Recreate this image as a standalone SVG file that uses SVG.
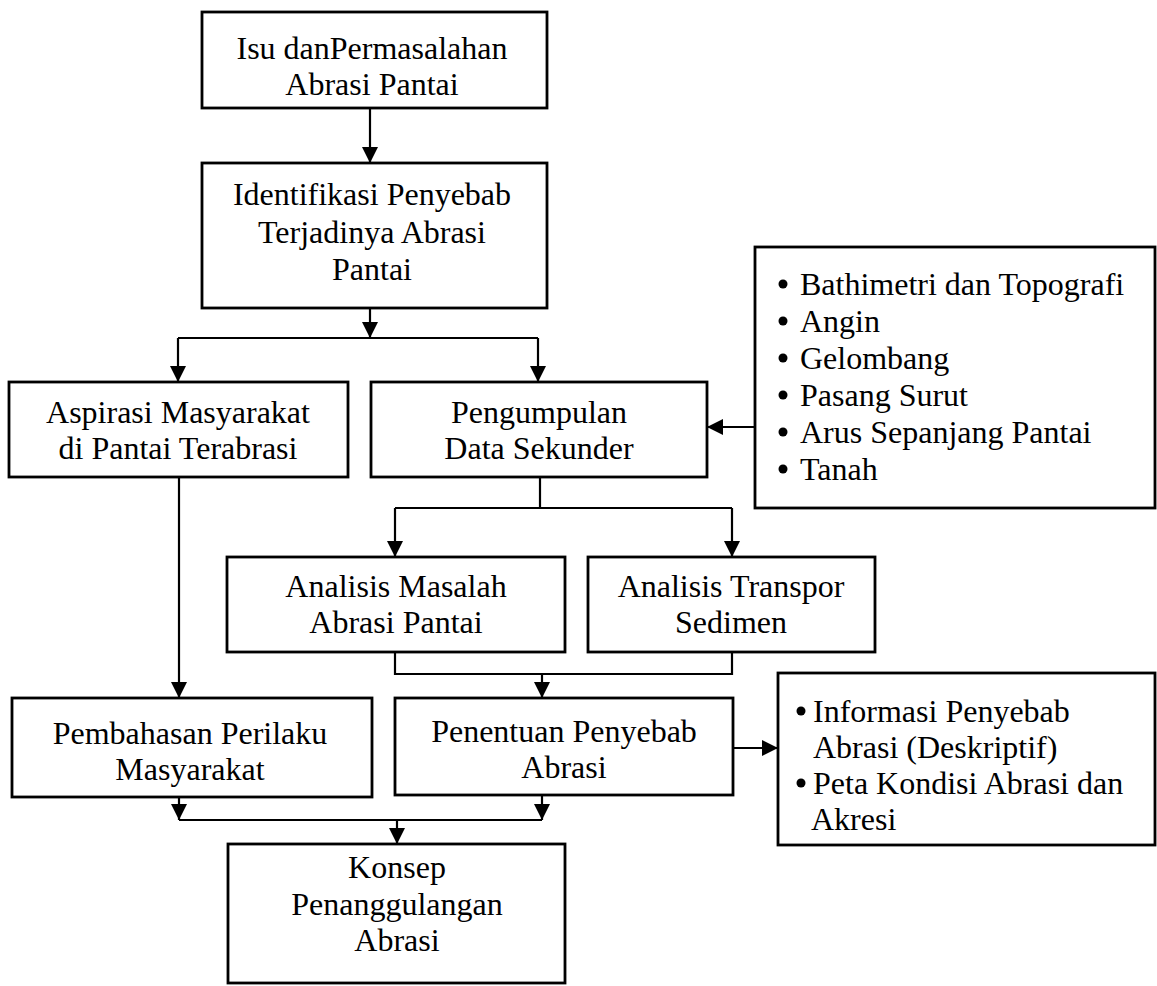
<svg xmlns="http://www.w3.org/2000/svg" width="1157" height="986" viewBox="0 0 1157 986">
<style>
.box{fill:#fff;stroke:#000;stroke-width:2.8}
.t{font-family:"Liberation Serif","Times New Roman",serif;font-size:32px;fill:#000;text-anchor:middle}
.b{font-family:"Liberation Serif","Times New Roman",serif;font-size:32px;fill:#000}
.c{fill:none;stroke:#000;stroke-width:2.2}
.a{fill:none;stroke:#000;stroke-width:2.2;marker-end:url(#ah)}
</style>
<defs>
<marker id="ah" markerUnits="userSpaceOnUse" markerWidth="18" markerHeight="18" refX="16" refY="8" orient="auto">
<path d="M0,0 L16,8 L0,16 z" fill="#000"/>
</marker>
</defs>
<rect width="1157" height="986" fill="#fff"/>
<g id="connectors">
<path class="a" d="M370,108 V163"/>
<path class="a" d="M370,308 V338"/>
<path class="c" d="M178,338 H538"/>
<path class="a" d="M178,338 V382"/>
<path class="a" d="M538,338 V382"/>
<path class="a" d="M755,427 H707"/>
<path class="c" d="M540,477 V508"/>
<path class="c" d="M395,508 H732"/>
<path class="a" d="M395,508 V557"/>
<path class="a" d="M732,508 V557"/>
<path class="a" d="M179,477 V698"/>
<path class="c" d="M395,652 V674 H732 V652"/>
<path class="a" d="M542,674 V698"/>
<path class="a" d="M733,748 H778"/>
<path class="a" d="M179,797 V820"/>
<path class="a" d="M542,795 V820"/>
<path class="c" d="M179,820 H542"/>
<path class="a" d="M397,820 V844"/>
</g>
<g id="n1">
<rect class="box" x="202" y="12" width="345" height="96"/>
<text class="t" x="372" y="59">Isu danPermasalahan</text>
<text class="t" x="372" y="95">Abrasi Pantai</text>
</g>
<g id="n2">
<rect class="box" x="202" y="163" width="345" height="145"/>
<text class="t" x="372" y="205">Identifikasi Penyebab</text>
<text class="t" x="372" y="243">Terjadinya Abrasi</text>
<text class="t" x="372" y="280">Pantai</text>
</g>
<g id="n3">
<rect class="box" x="9" y="382" width="339" height="95"/>
<text class="t" x="178" y="423">Aspirasi Masyarakat</text>
<text class="t" x="178" y="459">di Pantai Terabrasi</text>
</g>
<g id="n4">
<rect class="box" x="371" y="382" width="336" height="95"/>
<text class="t" x="539" y="423">Pengumpulan</text>
<text class="t" x="539" y="459">Data Sekunder</text>
</g>
<g id="n5">
<rect class="box" x="755" y="247" width="400" height="261"/>
<circle cx="783" cy="284" r="4.5"/>
<text class="b" x="800" y="295">Bathimetri dan Topografi</text>
<circle cx="783" cy="321" r="4.5"/>
<text class="b" x="800" y="332">Angin</text>
<circle cx="783" cy="358" r="4.5"/>
<text class="b" x="800" y="369">Gelombang</text>
<circle cx="783" cy="395" r="4.5"/>
<text class="b" x="800" y="406">Pasang Surut</text>
<circle cx="783" cy="432" r="4.5"/>
<text class="b" x="800" y="443">Arus Sepanjang Pantai</text>
<circle cx="783" cy="469" r="4.5"/>
<text class="b" x="800" y="480">Tanah</text>
</g>
<g id="n6">
<rect class="box" x="227" y="557" width="338" height="95"/>
<text class="t" x="396" y="597">Analisis Masalah</text>
<text class="t" x="396" y="633">Abrasi Pantai</text>
</g>
<g id="n7">
<rect class="box" x="588" y="557" width="287" height="95"/>
<text class="t" x="731" y="597">Analisis Transpor</text>
<text class="t" x="731" y="633">Sedimen</text>
</g>
<g id="n8">
<rect class="box" x="12" y="698" width="360" height="99"/>
<text class="t" x="190" y="744">Pembahasan Perilaku</text>
<text class="t" x="190" y="780">Masyarakat</text>
</g>
<g id="n9">
<rect class="box" x="395" y="698" width="338" height="97"/>
<text class="t" x="564" y="742">Penentuan Penyebab</text>
<text class="t" x="564" y="778">Abrasi</text>
</g>
<g id="n10">
<rect class="box" x="778" y="673" width="377" height="172"/>
<circle cx="801" cy="711" r="4.5"/>
<text class="b" x="813" y="722">Informasi Penyebab</text>
<text class="b" x="813" y="758">Abrasi (Deskriptif)</text>
<circle cx="801" cy="783" r="4.5"/>
<text class="b" x="813" y="794">Peta Kondisi Abrasi dan</text>
<text class="b" x="811" y="830">Akresi</text>
</g>
<g id="n11">
<rect class="box" x="228" y="844" width="337" height="139"/>
<text class="t" x="397" y="878">Konsep</text>
<text class="t" x="397" y="915">Penanggulangan</text>
<text class="t" x="397" y="951">Abrasi</text>
</g>
</svg>
